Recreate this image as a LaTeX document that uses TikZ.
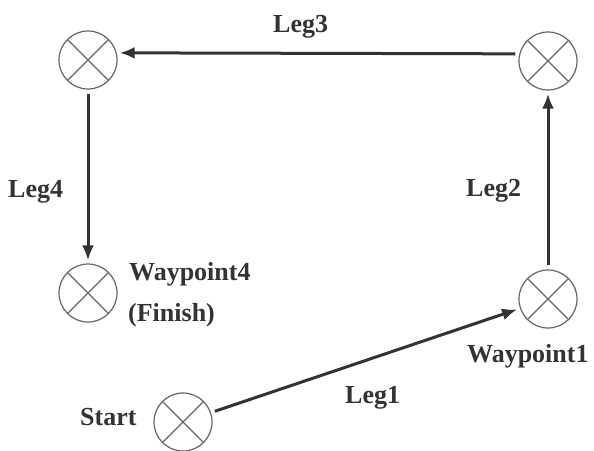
\documentclass[tikz,border=0pt]{standalone}
\usepackage{fontspec}
\setmainfont{Liberation Serif}
\usetikzlibrary{arrows.meta}
\definecolor{ink}{HTML}{333333}
\definecolor{ring}{HTML}{666666}
\begin{document}
\begin{tikzpicture}[x=1pt,y=-1pt,
  wpt/.style={circle,draw=ring,line width=1.2pt,inner sep=0pt,minimum size=58pt,
    path picture={\draw[ring,line width=1.1pt] (path picture bounding box.north west) -- (path picture bounding box.south east)
      (path picture bounding box.north east) -- (path picture bounding box.south west);}},
  leg/.style={draw=ink,line width=3pt,-{Latex[length=15pt,width=12pt]},shorten <=4pt,shorten >=3pt},
  lbl/.style={anchor=base west,inner sep=0pt,text=ink,font=\bfseries\fontsize{26}{30}\selectfont}]
\useasboundingbox (0,0) rectangle (594,450);
\fill[white] (0,0) rectangle (594,450);
\node[wpt] (start) at (183,422) {};
\node[wpt] (wp1) at (548,299) {};
\node[wpt] (wp2) at (548,61) {};
\node[wpt] (wp3) at (88,60) {};
\node[wpt] (wp4) at (88,293) {};
\draw[leg] (start) -- (wp1);
\draw[leg] (wp1.north) -- (wp2.south);
\draw[leg] (wp2.166) -- (wp3.14);
\draw[leg] (wp3.south) -- (wp4.north);
\node[lbl] (l3) at (273,32) {Leg3};
\node[lbl] (l4) at (8,197) {Leg4};
\node[lbl] (l2) at (466,196) {Leg2};
\node[lbl] (w4) at (129,280) {Waypoint4};
\node[lbl] (fin) at (128,321) {(Finish)};
\node[lbl] (st) at (80,425) {Start};
\node[lbl] (w1) at (467,362) {Waypoint1};
\node[lbl] (l1) at (345,403) {Leg1};
\end{tikzpicture}
\end{document}
